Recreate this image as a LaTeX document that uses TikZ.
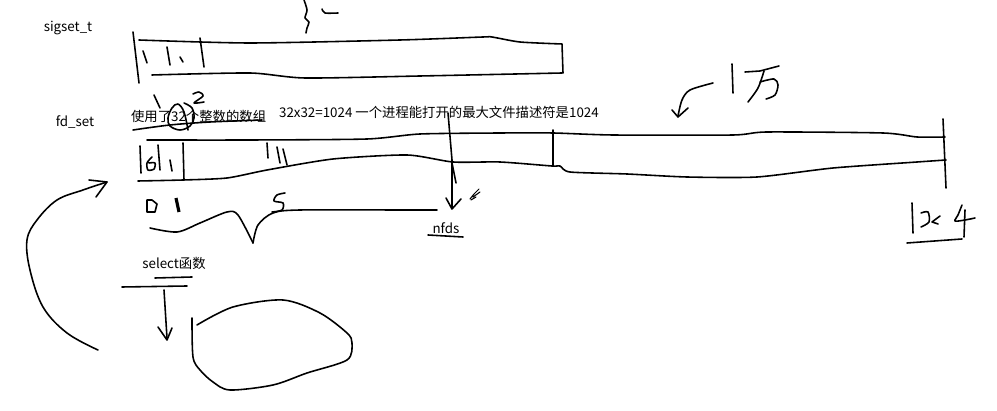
\documentclass[tikz,border=0pt]{standalone}
\usepackage{fontspec}
\setmainfont{Noto Sans CJK SC}
\usepackage{tikz}
\usetikzlibrary{arrows.meta,positioning,calc}
\tikzset{
	pen/.style={line width=0.9pt, line cap=round, line join=round},
	thin pen/.style={line width=0.6pt, line cap=round, line join=round},
	lbl/.style={font=\fontsize{7.6}{9}\selectfont, inner sep=1pt},
	chev/.style={pen},
}

\begin{document}
\begin{tikzpicture}[x=0.02cm, y=-0.02cm]
				\useasboundingbox (0,0) rectangle (997,411);
				% labels
				\node[lbl] at (68,28) (sig) {sigset\_t};
				\node[lbl] at (75,122) (fds) {fd\_set};
				\node[lbl, anchor=west] at (129,116) (arr) {使用了32个整数的数组};
				\node[lbl, anchor=west] at (277,112) (mx) {32x32=1024 一个进程能打开的最大文件描述符是1024};
				\node[lbl] at (446,228) (nf) {nfds};
				\node[lbl] at (174,263) (sel) {select函数};
				% sigset_t bar
				\draw[pen] (133,32) -- (139,83);
				\draw[pen] plot[smooth, tension=0.4] coordinates {(139,40) (250,43) (400,40) (483,37) (492,37) (520,42) (562,44)} -- (563,73);
				\draw[pen] plot[smooth, tension=0.4] coordinates {(152,75) (250,73) (305,78) (420,76) (562,73)};
				\draw[pen] (143,51) -- (147,63);
				\draw[pen] (167,47) -- (170,65);
				\draw[pen] (180,57) -- (183,62);
				\draw[pen] (200,38) -- (204,67);
				% 32 above
				\draw[pen] plot[smooth] coordinates {(304,0) (307,10) (305,18) (309,22) (307,28) (306,33)};
				\draw[pen] plot[smooth] coordinates {(322,9) (325,13) (338,13)};
				% 1 2 and loop
				\draw[pen] (154,95) -- (160,108);
				\draw[pen] plot[smooth] coordinates {(193,94) (199,92) (203,96) (194,103) (204,102)};
				\draw[pen] plot[smooth, tension=0.6] coordinates {(188,130) (184,112) (178,104) (172,108) (168,118) (170,126) (180,130) (190,126) (194,118) (192,108) (184,103)};
				\draw[pen] plot[smooth] coordinates {(133,130) (170,125) (210,122) (262,120)};
				% fd_set bar
				\draw[pen] plot[smooth, tension=0.4] coordinates {(147,140) (250,140) (367,139) (420,134) (500,133) (553,133) (613,135) (733,135) (767,132) (883,133) (917,137) (945,137)};
				\draw[pen] plot[smooth, tension=0.4] coordinates {(138,181) (183,180) (227,178) (267,170) (333,159) (407,155) (453,162) (500,162) (552,166) (560,166) (570,172) (627,174) (687,177) (757,177) (833,168) (917,162) (946,160)};
				\draw[pen] (553,130) -- (553,166);
				\draw[pen] (943,119) -- (946,188);
				\draw[pen] (140,146) -- (141,173);
				\draw[pen] plot[smooth] coordinates {(152,157) (147,163) (148,170) (154,169) (155,163) (149,163)};
				\draw[pen] (158,145) -- (160,170);
				\draw[pen] (170,160) -- (172,171);
				\draw[pen] (183,143) -- (184,180);
				\draw[pen] (267,143) -- (268,158);
				\draw[pen] (277,147) -- (280,163);
				\draw[pen] (283,149) -- (287,165);
				% 0 1 under the bar
				\draw[pen] (147,200) -- (147,212) -- (155,212) -- (157,204) -- (152,200) -- cycle;
				\draw[line width=1.8pt] (176,198) -- (179,212);
				% 5
				\draw[pen] plot[smooth] coordinates {(285,193) (277,195) (274,201) (283,203) (282,210) (272,212)};
				% wave
				\draw[pen] plot[smooth, tension=0.5] coordinates {(150,228) (177,232) (200,223) (227,212) (238,215) (253,243)};
				\draw[pen] plot[smooth, tension=0.5] coordinates {(253,243) (258,225) (273,213) (300,210) (400,210) (437,210)};
				% nfds arrow
				\coordinate (top) at (448,113);
				\draw[pen] (top) -- (452,160) -- (452,208);
				\draw[pen] (446,198) -- (452,209) -- (461,199);
				\draw[pen] (452,163) -- (456,183);
				\draw[thin pen] (470,199) -- (474,194) -- (479,189) (473,197) -- (480,192) (471,200) -- (476,197);
				\draw[pen] (428,235) -- (463,237);
				% 1 wan
				\draw[pen] (732,64) -- (733,93);
				\draw[pen] (745,72) -- (760,71) -- (779,66);
				\draw[pen] plot[smooth] coordinates {(764,71) (758,88) (748,102)};
				\draw[pen] plot[smooth] coordinates {(760,82) (774,79) (778,85) (775,95) (766,99)};
				\draw[pen] plot[smooth] coordinates {(713,83) (690,90) (682,100) (678,116)};
				\draw[pen] (672,110) -- (678,117) -- (688,108);
				% 1024 handwritten
				\draw[pen] (912,203) -- (913,233);
				\draw[pen] plot[smooth] coordinates {(921,213) (928,212) (929,222) (921,227)};
				\draw[pen] (940,216) -- (932,222) -- (938,224);
				\draw[pen] plot[smooth] coordinates {(962,205) (958,215) (955,221) (965,220) (975,218)};
				\draw[pen] (965,210) -- (964,237);
				\draw[pen] (907,243) -- (962,239);
				% select
				\draw[pen] (155,278) -- (192,277);
				\draw[pen] (122,287) -- (187,286);
				\coordinate (sd) at (164,290);
				\draw[pen] (sd) -- (167,338);
				\draw[pen] (158,327) -- (167,340) -- (172,328);
				\draw[pen] plot[smooth, tension=0.5] coordinates {(192,318) (193,357) (200,370) (213,382) (230,390) (273,385) (307,373) (347,360) (352,343) (347,333) (320,313) (283,300) (233,307) (197,325)};
				% loop back arrow
				\draw[pen] plot[smooth, tension=0.6] coordinates {(98,350) (67,333) (43,307) (30,270) (27,240) (37,220) (57,200) (83,190) (107,182)};
				\draw[pen] (89,180) -- (107,182) -- (96,197);
			\end{tikzpicture}
\end{document}
